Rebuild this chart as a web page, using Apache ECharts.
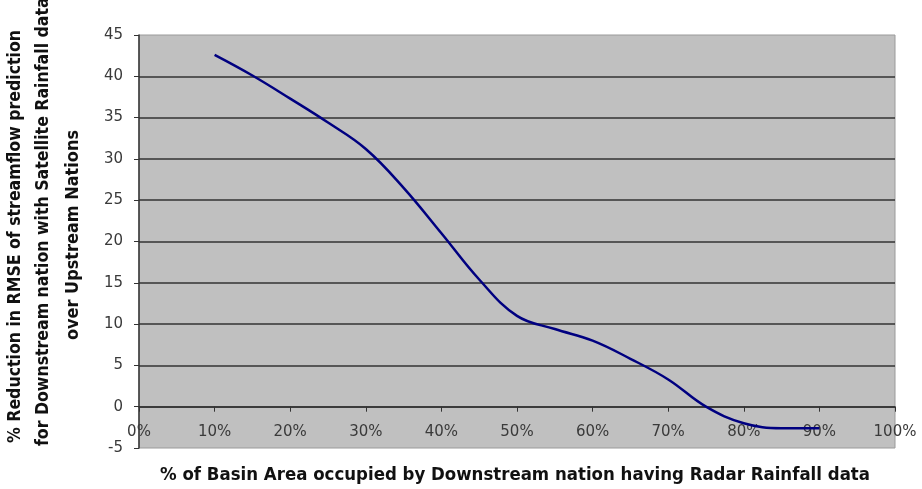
<!DOCTYPE html>
<html>
<head>
<meta charset="utf-8">
<script src="https://cdn.jsdelivr.net/npm/echarts@6/dist/echarts.min.js"></script>
<style>html,body{margin:0;padding:0;background:#fff}#c{width:922px;height:489px}</style>
</head>
<body>
<div id="c"></div>
<script>
var xValues = [10, 15, 20, 25, 30, 35, 40, 45, 50, 55, 60, 65, 70, 75, 80, 85, 90];
var yValues = [42.6, 40.1, 37.3, 34.4, 31.2, 26.5, 21.0, 15.4, 11.0, 9.4, 8.0, 5.8, 3.3, 0.0, -2.0, -2.6, -2.6];
var xTitle = '% of Basin Area occupied by Downstream nation having Radar Rainfall data';
var yTitleLines = ['% Reduction in RMSE of streamflow prediction', 'for Downstream nation with Satellite Rainfall data', 'over Upstream Nations'];

var labelFont = 'DejaVu Sans, Verdana, sans-serif';
var titleFont = 'bold 17px "DejaVu Sans", Verdana, sans-serif';
var ctx = document.createElement('canvas').getContext('2d');
ctx.font = titleFont;
function fitScale(text, target) { return target / ctx.measureText(text).width; }
var sx = fitScale(xTitle, 710);
var s1 = fitScale(yTitleLines[0], 413);
var s3 = fitScale(yTitleLines[2], 210);

var chart = echarts.init(document.getElementById('c'), null, {renderer: 'canvas'});
var pts = xValues.map(function (x, i) { return [x, yValues[i]]; });
chart.setOption({
  backgroundColor: '#fff',
  animation: false,
  grid: {left: 139, right: 27, top: 35, bottom: 41, show: true, backgroundColor: '#c0c0c0', borderColor: '#9a9a9a', borderWidth: 1},
  xAxis: {
    type: 'value', min: 0, max: 100, interval: 10,
    axisLine: {onZero: true, lineStyle: {color: '#333', width: 1.5}},
    axisTick: {show: true, length: 5, lineStyle: {color: '#333'}},
    axisLabel: {formatter: '{value}%', color: '#3a3a3a', fontSize: 15, fontFamily: labelFont, margin: -23},
    splitLine: {show: false}
  },
  yAxis: {
    type: 'value', min: -5, max: 45, interval: 5,
    axisLine: {show: true, onZero: false, lineStyle: {color: '#333', width: 1.5}},
    axisTick: {show: true, length: 5, lineStyle: {color: '#333'}},
    axisLabel: {color: '#3a3a3a', fontSize: 15, fontFamily: labelFont, margin: 16},
    splitLine: {show: true, lineStyle: {width: 1.5, color: ['rgba(0,0,0,0)', '#333', '#333', '#333', '#333', '#333', '#333', '#333', '#333', '#333', 'rgba(0,0,0,0)']}}
  },
  graphic: [
    {type: 'text', x: 515, y: 476, scaleX: sx, style: {text: xTitle, font: titleFont, fill: '#111', align: 'center', verticalAlign: 'middle'}},
    {type: 'text', x: 16, y: 443, rotation: Math.PI / 2, scaleX: s1, style: {text: yTitleLines[0], font: titleFont, fill: '#111', align: 'left', verticalAlign: 'middle'}},
    {type: 'text', x: 44, y: 446, rotation: Math.PI / 2, scaleX: s1, style: {text: yTitleLines[1], font: titleFont, fill: '#111', align: 'left', verticalAlign: 'middle'}},
    {type: 'text', x: 74, y: 340, rotation: Math.PI / 2, scaleX: s3, style: {text: yTitleLines[2], font: titleFont, fill: '#111', align: 'left', verticalAlign: 'middle'}}
  ],
  series: [{
    type: 'line', data: pts, smooth: 0.4, showSymbol: false, symbol: 'none',
    lineStyle: {color: '#000080', width: 2.5}
  }]
});
</script>
</body>
</html>
